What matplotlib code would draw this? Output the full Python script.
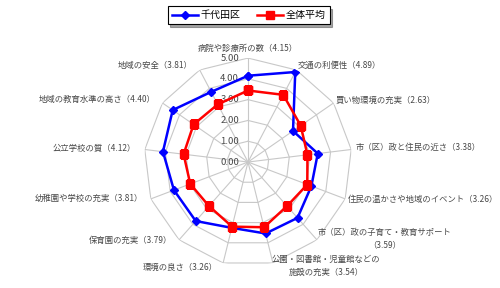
import matplotlib
matplotlib.use("Agg")
import matplotlib.pyplot as plt
import numpy as np

plt.rcParams["font.family"] = ["Noto Sans CJK JP", "DejaVu Sans"]

CATEGORIES = [
    "病院や診療所の数",
    "交通の利便性",
    "買い物環境の充実",
    "市（区）政と住民の近さ",
    "住民の温かさや地域のイベント",
    "市（区）政の子育て・教育サポート",
    "公園・図書館・児童館などの\n施設の充実",
    "環境の良さ",
    "保育園の充実",
    "幼稚園や学校の充実",
    "公立学校の質",
    "地域の教育水準の高さ",
    "地域の安全",
]
CHIYODA = [4.15, 4.89, 2.63, 3.38, 3.26, 3.59, 3.54, 3.26, 3.79, 3.81, 4.12, 4.40, 3.81]
AVERAGE = [3.44, 3.65, 3.08, 2.88, 3.05, 2.83, 3.23, 3.20, 2.83, 2.97, 3.12, 3.18, 3.13]
SERIES_NAMES = ["千代田区", "全体平均"]
R_TICKS = [0, 1, 2, 3, 4, 5]

TEXT_COLOR = "#484848"
GRID_COLOR = "#c8c8c8"

# label placement: (ha, va, dx px, dy px)
LABEL_STYLE = [
    ("center", "bottom", 0, 5),
    ("left", "center", 1, 5),
    ("left", "center", 2, 3),
    ("left", "center", 4, 2),
    ("left", "center", 3, 0),
    ("left", "center", 1, 1),
    ("left", "center", -1, -3),
    ("right", "center", -5, -4),
    ("right", "center", -7, -1),
    ("right", "center", -8, 0),
    ("right", "center", -9, 1),
    ("right", "center", -7, 3),
    ("right", "center", -7, 4),
]


def label_text(name: str, value: float) -> str:
    if name.startswith("市（区）政の子育て"):
        return f"{name}\n（{value:.2f}）"
    return f"{name}（{value:.2f}）"


def main() -> None:
    n = len(CATEGORIES)
    theta = np.linspace(0, 2 * np.pi, n, endpoint=False)
    closed = np.append(theta, theta[0])

    fig = plt.figure(figsize=(5.0, 2.88), dpi=100)
    ax = fig.add_axes([0.288, 0.0764, 0.416, 0.722], projection="polar")
    ax.set_theta_zero_location("N")
    ax.set_theta_direction(-1)
    ax.set_ylim(0, 5)
    ax.grid(False)
    ax.spines["polar"].set_visible(False)
    ax.set_xticks([])
    ax.set_yticks([])
    ax.patch.set_alpha(0)

    # polygon grid
    for r in R_TICKS[1:]:
        ax.plot(closed, [r] * (n + 1), color=GRID_COLOR, lw=0.8, zorder=1)
    for t in theta:
        ax.plot([t, t], [0, 5], color=GRID_COLOR, lw=0.8, zorder=1)

    for r in R_TICKS:
        ax.annotate(f"{r:.2f}", xy=(0, r), xytext=(-9, 0), textcoords="offset pixels",
                    ha="right", va="center", fontsize=6.8, color=TEXT_COLOR)

    ax.plot(closed, np.append(CHIYODA, CHIYODA[0]), color="#0000ff", lw=1.8,
            marker="D", markersize=4, label=SERIES_NAMES[0], zorder=3)
    ax.plot(closed, np.append(AVERAGE, AVERAGE[0]), color="#ff0000", lw=1.8,
            marker="s", markersize=5.5, label=SERIES_NAMES[1], zorder=4)

    for t, name, val, (ha, va, dx, dy) in zip(theta, CATEGORIES, CHIYODA, LABEL_STYLE):
        ax.annotate(label_text(name, val), xy=(t, 5), xytext=(dx, dy),
                    textcoords="offset pixels", ha=ha, va=va, multialignment="center",
                    fontsize=6.0, color=TEXT_COLOR, annotation_clip=False,
                    linespacing=1.5)

    leg = fig.legend(loc="upper center", bbox_to_anchor=(0.497, 0.995), ncol=2,
                     fontsize=7.2, frameon=True, fancybox=False, shadow=True,
                     edgecolor="black", handlelength=2.6, columnspacing=1.6,
                     borderpad=0.4, handletextpad=0.3)
    leg.get_frame().set_linewidth(0.8)

    fig.savefig("out.png", dpi=100)


if __name__ == "__main__":
    main()
